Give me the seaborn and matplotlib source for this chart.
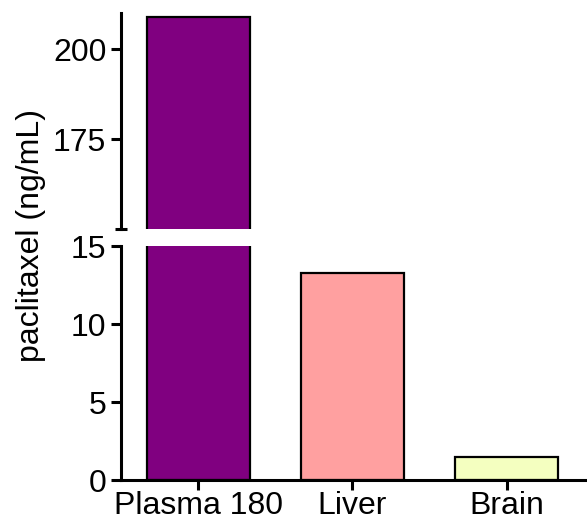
import matplotlib
matplotlib.use('Agg')
import matplotlib.pyplot as plt
import seaborn as sns

# values (ng/mL)
tissues = ['Plasma 180', 'Liver', 'Brain']
paclitaxel = [209, 13.3, 1.45]
bar_colors = ['#800080', '#FFA0A0', '#F4FFC0']

top_ticks = [175, 200]
bottom_ticks = [0, 5, 10, 15]

sns.set_style('ticks')
plt.rcParams['font.family'] = ['Liberation Sans', 'DejaVu Sans']
plt.rcParams['text.color'] = 'black'
plt.rcParams['axes.labelcolor'] = 'black'
plt.rcParams['xtick.color'] = 'black'
plt.rcParams['ytick.color'] = 'black'
plt.rcParams['axes.edgecolor'] = 'black'

fig = plt.figure(figsize=(5.87, 5.2), dpi=100)
ax_top = fig.add_axes([0.206, 0.5596, 0.794, 0.415])
ax_bot = fig.add_axes([0.206, 0.0769, 0.794, 0.45])

for ax in (ax_top, ax_bot):
    sns.barplot(x=tissues, y=paclitaxel, hue=tissues, palette=bar_colors,
                legend=False, edgecolor='black', linewidth=1.6, width=0.667,
                saturation=1, ax=ax)
    ax.set_xlim(-0.5, 2.52)
    ax.set_ylabel('')
    ax.spines['right'].set_visible(False)
    ax.spines['top'].set_visible(False)
    ax.spines['left'].set_linewidth(2.2)
    ax.spines['bottom'].set_linewidth(2.2)
    ax.tick_params(axis='both', labelsize=23, width=2.2, length=7,
                   color='black', labelcolor='black')

ax_top.set_ylim(150, 210)
ax_top.set_yticks(top_ticks)
ax_top.set_yticks([150], minor=True)
ax_top.tick_params(axis='y', which='minor', direction='inout', length=8, width=2.2)
ax_top.spines['bottom'].set_visible(False)
ax_top.set_xticks([])
ax_top.set_xlabel('')

ax_bot.set_ylim(0, 15)
ax_bot.set_yticks(bottom_ticks)
ax_bot.set_xlabel('')
ax_bot.tick_params(axis='x', pad=1)

fig.text(0.053, 0.548, 'paclitaxel (ng/mL)', rotation=90, fontsize=23,
         ha='center', va='center')

fig.savefig('out.png', dpi=100)
